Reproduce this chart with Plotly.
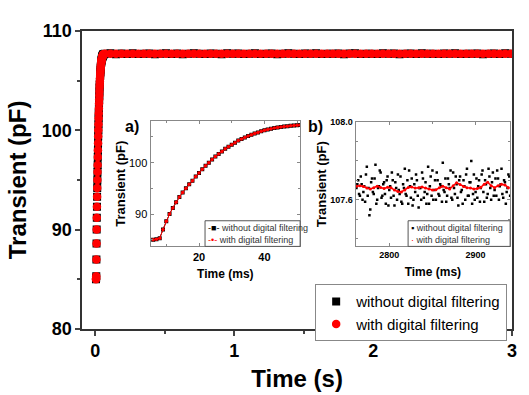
import plotly.graph_objects as go

# ---------------- data ----------------
# rise (sampled every 1 ms from 6 ms to 60 ms)
rise_start_ms = 6
rise_vals = [85.0, 85.1, 85.3, 87.0, 88.6, 90.0, 91.2, 92.3, 93.3, 94.2,
             95.0, 95.8, 96.5, 97.3, 98.0, 98.7, 99.4, 100.0, 100.6, 101.2,
             101.7, 102.2, 102.7, 103.1, 103.5, 103.9, 104.3, 104.6, 104.9, 105.2,
             105.45, 105.7, 105.9, 106.1, 106.3, 106.45, 106.6, 106.75, 106.85, 106.95,
             107.05, 107.1, 107.2, 107.25, 107.3, 107.35, 107.4, 107.44, 107.48, 107.52,
             107.55, 107.58, 107.6, 107.62, 107.64]
rise_ms = [rise_start_ms + i for i in range(len(rise_vals))]

# plateau (main plot, every 40 ms from 0.07 s)
plateau_start_s = 0.07
plateau_step_s = 0.04
plateau_black = [107.70, 107.74, 107.66, 107.72, 107.68, 107.75, 107.67, 107.71, 107.73, 107.66,
                 107.70, 107.76, 107.68, 107.72, 107.65, 107.71, 107.74, 107.69, 107.67, 107.73,
                 107.70, 107.66, 107.75, 107.69, 107.72, 107.68, 107.71, 107.74, 107.67, 107.70,
                 107.73, 107.66, 107.71, 107.75, 107.69, 107.68, 107.72, 107.70, 107.74, 107.67,
                 107.71, 107.69, 107.73, 107.66, 107.72, 107.75, 107.68, 107.70, 107.71, 107.67,
                 107.74, 107.69, 107.72, 107.66, 107.70, 107.73, 107.68, 107.75, 107.69, 107.71,
                 107.67, 107.72, 107.70, 107.74, 107.68, 107.71, 107.69, 107.73, 107.66, 107.70,
                 107.72, 107.68, 107.74, 107.70]
plateau_red = [107.69, 107.70, 107.69, 107.70, 107.70, 107.71, 107.70, 107.69, 107.70, 107.70,
               107.69, 107.71, 107.70, 107.70, 107.69, 107.70, 107.71, 107.70, 107.69, 107.70,
               107.70, 107.69, 107.71, 107.70, 107.70, 107.69, 107.70, 107.71, 107.70, 107.69,
               107.70, 107.70, 107.69, 107.71, 107.70, 107.70, 107.69, 107.70, 107.71, 107.70,
               107.69, 107.70, 107.70, 107.69, 107.71, 107.70, 107.70, 107.69, 107.70, 107.71,
               107.70, 107.69, 107.70, 107.70, 107.69, 107.71, 107.70, 107.70, 107.69, 107.70,
               107.71, 107.70, 107.69, 107.70, 107.70, 107.69, 107.71, 107.70, 107.70, 107.69,
               107.70, 107.71, 107.70, 107.70]
plateau_s = [plateau_start_s + i * plateau_step_s for i in range(len(plateau_black))]

main_t = [m / 1000 for m in rise_ms] + plateau_s
main_black = rise_vals + plateau_black
main_red = rise_vals + plateau_red

# inset b: steady-state window (ms), raw samples on even and odd ms
b_black_even = [107.66, 107.70, 107.62, 107.68, 107.64, 107.59, 107.77, 107.66, 107.55, 107.71,
                107.63, 107.78, 107.60, 107.67, 107.74, 107.62, 107.69, 107.58, 107.72, 107.65,
                107.61, 107.70, 107.57, 107.66, 107.73, 107.63, 107.59, 107.68, 107.76, 107.62,
                107.58, 107.67, 107.71, 107.60, 107.64, 107.70, 107.56, 107.66, 107.74, 107.61,
                107.69, 107.63, 107.58, 107.72, 107.75, 107.65, 107.60, 107.70, 107.62, 107.67,
                107.79, 107.64, 107.59, 107.71, 107.66, 107.61, 107.74, 107.63, 107.68, 107.57,
                107.72, 107.65, 107.70, 107.60, 107.76, 107.62, 107.69, 107.58, 107.73, 107.64,
                107.61, 107.70, 107.66, 107.75, 107.59, 107.68, 107.63, 107.72, 107.60, 107.74,
                107.65, 107.62, 107.71, 107.67, 107.76, 107.61, 107.69, 107.64, 107.73, 107.62]
b_black_odd = [107.68, 107.63, 107.72, 107.60, 107.67, 107.73, 107.62, 107.52, 107.69, 107.64,
               107.71, 107.58, 107.66, 107.75, 107.61, 107.68, 107.63, 107.70, 107.57, 107.67,
               107.74, 107.62, 107.69, 107.60, 107.65, 107.72, 107.58, 107.66, 107.63, 107.70,
               107.75, 107.61, 107.57, 107.68, 107.73, 107.62, 107.66, 107.60, 107.71, 107.64,
               107.58, 107.77, 107.67, 107.62, 107.60, 107.70, 107.74, 107.63, 107.68, 107.59,
               107.65, 107.71, 107.62, 107.68, 107.75, 107.60, 107.66, 107.72, 107.61, 107.70,
               107.64, 107.58, 107.67, 107.73, 107.62, 107.69, 107.80, 107.63, 107.60, 107.71,
               107.67, 107.59, 107.73, 107.64, 107.70, 107.61, 107.76, 107.66, 107.69, 107.62,
               107.71, 107.75, 107.60, 107.68, 107.63, 107.70, 107.58, 107.66, 107.72]
b_black_ms = ([2762 + 2 * i for i in range(len(b_black_even))]
              + [2763 + 2 * i for i in range(len(b_black_odd))])
b_black = b_black_even + b_black_odd

b_red_start, b_red_step = 2762, 4
b_red = [107.670, 107.672, 107.668, 107.660, 107.655, 107.662, 107.670, 107.663, 107.658, 107.664,
         107.662, 107.650, 107.642, 107.640, 107.650, 107.663, 107.666, 107.660, 107.662, 107.666,
         107.660, 107.655, 107.650, 107.652, 107.662, 107.670, 107.662, 107.655, 107.672, 107.688,
         107.678, 107.668, 107.662, 107.660, 107.656, 107.658, 107.664, 107.680, 107.690, 107.672,
         107.662, 107.672, 107.680, 107.676, 107.662]
b_red_ms = [b_red_start + i * b_red_step for i in range(len(b_red))]

LBL_BLACK = "without digital filtering"
LBL_RED = "with digital filtering"

W, H = 529, 395
def px(x):
    return x / W
def py(y):
    return 1 - y / H

FONT = "Arial, Liberation Sans, sans-serif"

fig = go.Figure()

# main traces
fig.add_trace(go.Scatter(x=main_t, y=main_black, mode="markers", name=LBL_BLACK,
                         marker=dict(symbol="square", size=8, color="black"),
                         xaxis="x", yaxis="y", legend="legend"))
fig.add_trace(go.Scatter(x=main_t, y=main_red, mode="markers", name=LBL_RED,
                         marker=dict(symbol="circle", size=8.5, color="red"),
                         xaxis="x", yaxis="y", legend="legend"))

# inset a
fig.add_trace(go.Scatter(x=rise_ms, y=rise_vals, mode="lines+markers", showlegend=False,
                         marker=dict(symbol="square", size=4, color="black"),
                         line=dict(color="black", width=1), xaxis="x2", yaxis="y2"))
fig.add_trace(go.Scatter(x=rise_ms, y=rise_vals, mode="lines+markers", showlegend=False,
                         marker=dict(symbol="circle", size=3.5, color="red"),
                         line=dict(color="red", width=1), xaxis="x2", yaxis="y2"))

# inset b
fig.add_trace(go.Scatter(x=b_black_ms, y=b_black, mode="markers", showlegend=False,
                         marker=dict(symbol="square", size=2.5, color="black"),
                         xaxis="x3", yaxis="y3"))
fig.add_trace(go.Scatter(x=b_red_ms, y=b_red, mode="lines+markers", showlegend=False,
                         marker=dict(symbol="circle", size=3, color="red"),
                         line=dict(color="red", width=1.5), xaxis="x3", yaxis="y3"))

inset_axis = dict(showline=True, linecolor="#888", linewidth=1, mirror="allticks",
                  ticks="inside", ticklen=3, tickcolor="#888", showgrid=False, zeroline=False)

fig.update_layout(
    width=W, height=H,
    margin=dict(l=0, r=0, t=0, b=0),
    paper_bgcolor="white", plot_bgcolor="white",
    font=dict(family=FONT, color="black"),
    xaxis=dict(domain=[px(83), px(517)], range=[-0.093, 3.0], anchor="y",
               tickvals=[0, 1, 2, 3], ticks="outside", ticklen=5, tickwidth=1.5,
               tickfont=dict(size=18, family=FONT, weight="bold"),
               minor=dict(tickvals=[0.5, 1.5, 2.5], ticks="outside", ticklen=3, tickwidth=1.5),
               showline=True, linecolor="#333", linewidth=1.5, mirror=True,
               showgrid=False, zeroline=False,
               title=dict(text="Time (s)", font=dict(size=24, family=FONT, weight="bold"), standoff=10)),
    yaxis=dict(domain=[py(336), py(22)], range=[80, 110], anchor="x",
               tickvals=[80, 90, 100, 110], ticks="outside", ticklen=5, tickwidth=1.5,
               tickfont=dict(size=18, family=FONT, weight="bold"),
               minor=dict(tickvals=[85, 95, 105], ticks="outside", ticklen=3, tickwidth=1.5),
               showline=True, linecolor="#333", linewidth=1.5, mirror=True,
               showgrid=False, zeroline=False,
               title=dict(text="Transient (pF)", font=dict(size=24, family=FONT, weight="bold"), standoff=8)),
    xaxis2=dict(domain=[px(152), px(303)], range=[5.2, 50.9], anchor="y2",
                tickvals=[20, 40], minor=dict(tickvals=[10, 30, 50], ticks="inside", ticklen=2, tickcolor="#888"),
                tickfont=dict(size=11, family=FONT, weight="bold"),
                title=dict(text="Time (ms)", font=dict(size=12, family=FONT, weight="bold"), standoff=8),
                **inset_axis),
    yaxis2=dict(domain=[py(249), py(117)], range=[83.7, 108.1], anchor="x2",
                tickvals=[90, 100], minor=dict(tickvals=[85, 95, 105], ticks="inside", ticklen=2, tickcolor="#888"),
                tickfont=dict(size=11, family=FONT),
                title=dict(text="Transient (pF)", font=dict(size=13, family=FONT, weight="bold"), standoff=0),
                **inset_axis),
    xaxis3=dict(domain=[px(359), px(515)], range=[2761, 2940], anchor="y3",
                tickvals=[2800, 2900], minor=dict(tickvals=[2750, 2850, 2950], ticks="inside", ticklen=2, tickcolor="#888"),
                tickfont=dict(size=9, family=FONT, weight="bold"),
                title=dict(text="Time (ms)", font=dict(size=12, family=FONT, weight="bold"), standoff=8),
                **inset_axis),
    yaxis3=dict(domain=[py(249), py(118)], range=[107.36, 108.0], anchor="x3",
                tickvals=[107.6, 108.0], ticktext=["107.6", "108.0"],
                minor=dict(tickvals=[107.4, 107.5, 107.7, 107.8, 107.9], ticks="inside", ticklen=2, tickcolor="#888"),
                tickfont=dict(size=9, family=FONT, weight="bold"),
                title=dict(text="Transient (pF)", font=dict(size=13, family=FONT, weight="bold"), standoff=0),
                **inset_axis),
    legend=dict(x=px(512), y=py(289), xanchor="right", yanchor="top",
                bgcolor="white", bordercolor="#888", borderwidth=1,
                font=dict(size=15, family=FONT), itemwidth=30, tracegroupgap=0),
)

# inset legends (boxes + text)
for (x0, x1, sym_b, sym_r) in [(207, 303, "-■-", "-•-"), (412, 515, "▪", "·")]:
    fig.add_shape(type="rect", xref="paper", yref="paper",
                  x0=px(x0), x1=px(x1), y0=py(249), y1=py(222),
                  line=dict(color="#555", width=1), fillcolor="white", layer="above")
    fig.add_annotation(xref="paper", yref="paper", x=px(x0 + 1), y=py(230), xanchor="left", yanchor="middle",
                       text=f"<span style='color:black'>{sym_b}</span> {LBL_BLACK}", showarrow=False,
                       font=dict(size=9, family=FONT, color="#333"))
    fig.add_annotation(xref="paper", yref="paper", x=px(x0 + 1), y=py(242), xanchor="left", yanchor="middle",
                       text=f"<span style='color:red'>{sym_r}</span> {LBL_RED}", showarrow=False,
                       font=dict(size=9, family=FONT, color="#333"))

fig.add_annotation(xref="paper", yref="paper", x=px(124), y=py(112), text="a)", showarrow=False,
                   font=dict(size=16, family=FONT, weight="bold"))
fig.add_annotation(xref="paper", yref="paper", x=px(319), y=py(112), text="b)", showarrow=False,
                   font=dict(size=16, family=FONT, weight="bold"))

fig.write_html("out.html")
